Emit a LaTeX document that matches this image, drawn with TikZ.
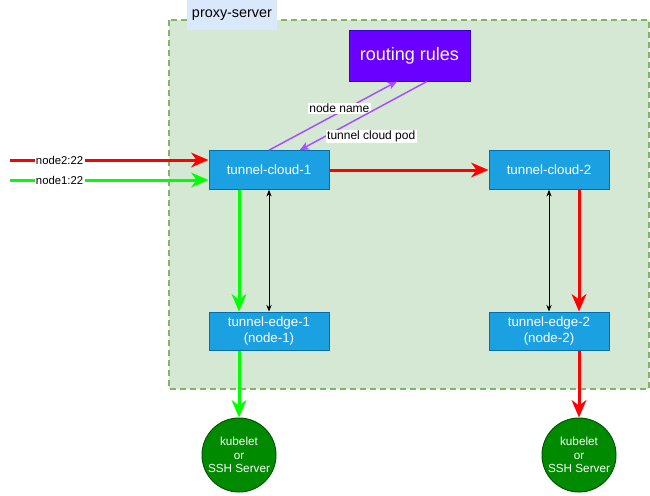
\documentclass[tikz,border=0pt]{standalone}
\usepackage{fontspec}
\setmainfont{Liberation Sans}
\usetikzlibrary{positioning,arrows.meta}

\definecolor{proxyfill}{HTML}{D5E8D4}
\definecolor{proxyline}{HTML}{82B366}
\definecolor{tagfill}{HTML}{DAE8FC}
\definecolor{tunnelfill}{HTML}{1BA1E2}
\definecolor{tunnelline}{HTML}{006EAF}
\definecolor{rulesfill}{HTML}{6A00FF}
\definecolor{rulesline}{HTML}{3700CC}
\definecolor{hostfill}{HTML}{008A00}
\definecolor{hostline}{HTML}{005700}
\definecolor{queryline}{HTML}{A64DFF}
\definecolor{pathred}{HTML}{FF0000}
\definecolor{pathgreen}{HTML}{00FF00}

\begin{document}
\begin{tikzpicture}[
  x=0.75pt, y=-0.75pt,
  node distance=2cm,
  on grid,
  tunnel/.style={draw=tunnelline, fill=tunnelfill, text=white, line width=0.75pt,
    minimum width=90pt, minimum height=29pt, align=center, inner sep=1pt,
    font=\fontsize{10}{12}\selectfont},
  host/.style={circle, draw=hostline, fill=hostfill, text=white, line width=0.75pt,
    minimum size=55.5pt, inner sep=0pt, align=center, font=\fontsize{8.8}{10.2}\selectfont},
  flow/.style={line width=2.25pt, -{Stealth[length=13pt, width=11pt, inset=4pt]}},
  query/.style={draw=queryline, line width=1.1pt, -{Stealth[length=7pt, width=6pt, inset=2pt]}},
  link/.style={line width=0.6pt, {Stealth[length=5pt, width=4pt]}-{Stealth[length=5pt, width=4pt]}},
  tag/.style={fill=white, text=black, inner sep=1pt, font=\fontsize{8.5}{10}\selectfont}
]
  \useasboundingbox (0,0) rectangle (650,496);

  % proxy-server area
  \draw[proxyline, fill=proxyfill, line width=1.1pt, dash pattern=on 4.5pt off 3pt]
    (169,20) rectangle (649,389);
  \node[fill=tagfill, minimum width=67.5pt, minimum height=22.5pt, inner sep=0pt,
    font=\fontsize{10.8}{13}\selectfont] (proxy) at (232,15) {proxy-server};

  % nodes
  \node[tunnel] (tc1) at (269,170) {tunnel-cloud-1};
  \node[tunnel, right=210pt of tc1] (tc2) {tunnel-cloud-2};
  \node[tunnel, minimum height=28.5pt, below=120.75pt of tc1] (te1) {tunnel-edge-1\\(node-1)};
  \node[tunnel, minimum height=28.5pt, below=120.75pt of tc2] (te2) {tunnel-edge-2\\(node-2)};
  \node[host, below=93pt of te1, xshift=-22.5pt] (h1) {kubelet\\or\\SSH Server};
  \node[host, below=93pt of te2, xshift=22.5pt] (h2) {kubelet\\or\\SSH Server};
  \node[draw=rulesline, fill=rulesfill, text=white, line width=0.75pt,
    minimum width=90.75pt, minimum height=38.25pt,
    font=\fontsize{13.5}{16}\selectfont] (rules) at (409.5,55.5) {routing rules};

  \coordinate (in2) at (10,160);
  \coordinate (in1) at (10,180);

  % traffic
  \draw[flow, pathred] (in2) -- node[tag, pos=0.25] {node2:22} ([yshift=7.5pt]tc1.west);
  \draw[flow, pathgreen] (in1) -- node[tag, pos=0.25] {node1:22} ([yshift=-7.5pt]tc1.west);
  \draw[flow, pathred] (tc1) -- (tc2);
  \draw[flow, pathgreen] ([xshift=-22.5pt]tc1.south) -- ([xshift=-22.5pt]te1.north);
  \draw[flow, pathred] ([xshift=22.5pt]tc2.south) -- ([xshift=22.5pt]te2.north);
  \draw[flow, pathgreen] ([xshift=-22.5pt]te1.south) -- (h1);
  \draw[flow, pathred] ([xshift=22.5pt]te2.south) -- (h2);

  % tunnels
  \draw[link] (tc1) -- (te1);
  \draw[link] (tc2) -- (te2);

  % lookups
  \draw[query] (tc1.north) -- node[tag, pos=0.55, yshift=3pt, font=\fontsize{9}{10.5}\selectfont] {node name}
    ([xshift=-9.4pt]rules.south);
  \draw[query] ([xshift=13pt]rules.south) -- node[tag, pos=0.8, anchor=west, font=\fontsize{9}{10.5}\selectfont] {tunnel cloud pod}
    ([xshift=23pt]tc1.north);
\end{tikzpicture}
\end{document}
